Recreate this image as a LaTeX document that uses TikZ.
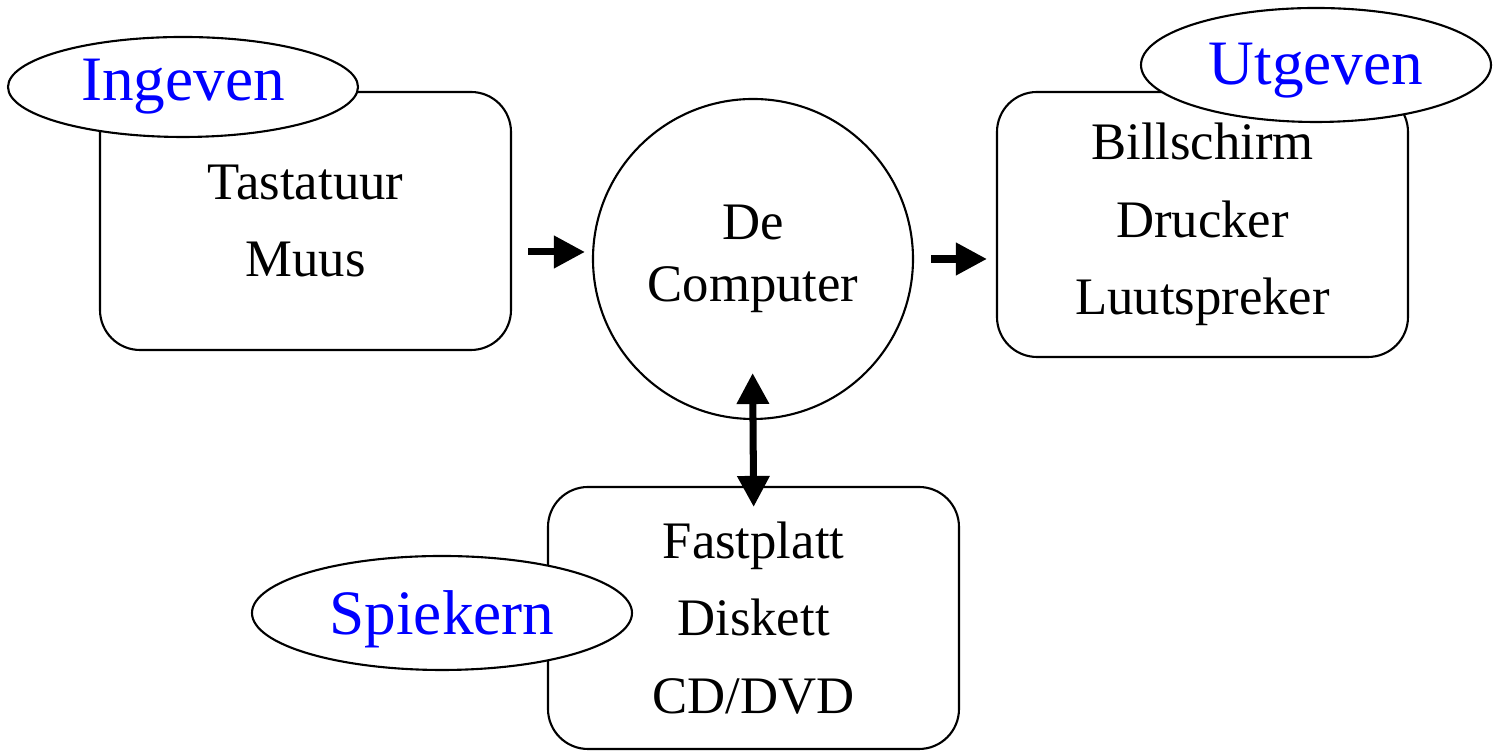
\documentclass[tikz,border=0pt]{standalone}
\usepackage{fontspec}
\setmainfont{Liberation Serif}
\usepackage{xcolor}
\usepackage{tikz}
\usetikzlibrary{positioning,arrows.meta,shapes.geometric}

\begin{document}
\begin{tikzpicture}[auto,
  devbox/.style={draw, line width=0.6pt, rounded corners=0.4cm, minimum width=4.11cm, align=center, font=\fontsize{15}{22}\selectfont},
  rolle/.style={draw, ellipse, fill=white, line width=0.6pt, inner sep=0pt, text=blue, font=\fontsize{18}{22}\selectfont},
  pijl/.style={line width=2pt, -{Triangle[length=0.31cm, width=0.31cm]}}]
\useasboundingbox (0,0) rectangle (15,7.51);

\node[devbox, minimum height=2.58cm] (box_ingeven) at (3.055,5.30) {Tastatuur\\Muus};
\node[devbox, minimum height=2.65cm] (box_utgeven) at (12.025,5.265) {Billschirm\\Drucker\\Luutspreker};
\node[devbox, minimum height=2.62cm] (box_spiekern) at (7.535,1.33) {Fastplatt\\Diskett\\CD/DVD};
\node[draw, circle, line width=0.6pt, minimum size=3.2cm, align=center, font=\fontsize{15}{17.5}\selectfont] (computer) at (7.53,4.92) {De\\Computer};

\node[rolle, minimum width=3.5cm, minimum height=1.0cm] (ingeven) at (1.83,6.64) {Ingeven};
\node[rolle, minimum width=3.5cm, minimum height=1.14cm, text height=0.55cm, text depth=0.15cm] (utgeven) at (13.16,6.86) {Utgeven};
\node[rolle, minimum width=3.8cm, minimum height=1.14cm, text height=0.58cm, text depth=0.15cm] (spiekern) at (4.42,1.38) {Spiekern};

\draw[pijl, shorten <=0.16cm, shorten >=0.07cm] ([yshift=0.07cm]computer.west -| box_ingeven.east) -- ([yshift=0.07cm]computer.west);
\draw[pijl, shorten <=0.17cm, shorten >=0.09cm] (computer.east) -- (computer.east -| box_utgeven.west);
\draw[pijl, {Triangle[length=0.31cm, width=0.31cm]}-{Triangle[length=0.31cm, width=0.31cm]}, shorten <=-0.47cm, shorten >=-0.21cm] (computer.south) -- (box_spiekern.north);

\end{tikzpicture}
\end{document}
